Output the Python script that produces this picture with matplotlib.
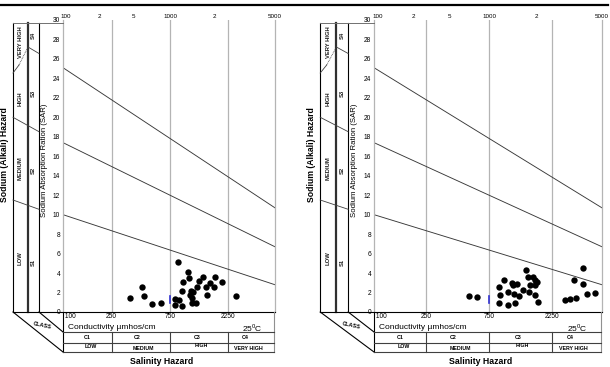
import numpy as np
import matplotlib.pyplot as plt

plt.rcParams['font.family'] = ['Liberation Sans', 'DejaVu Sans']

# conductivity (micromhos/cm) and SAR of the samples
left_ec = [353, 440, 459, 537, 635, 822, 881, 822, 933, 875, 938, 961, 1057, 1076,
           1105, 1091, 1132, 1125, 1221, 1161, 1251, 1291, 1400, 1473, 1493, 1589,
           1714, 1746, 2001, 2590]
left_sar = [1.41, 2.6, 1.68, 0.82, 0.96, 1.34, 1.23, 0.72, 0.62, 5.1, 2.19, 3.12, 4.08,
            3.53, 2.19, 1.75, 1.41, 0.89, 0.96, 2.09, 2.54, 3.22, 3.56, 2.6, 1.75, 2.95,
            2.54, 3.56, 3.12, 1.64]

right_ec = [527, 610, 896, 972, 906, 887, 1038, 1049, 1112, 1145, 1164, 1178, 1214,
            1271, 1362, 1422, 1487, 1499, 1531, 1623, 1673, 1673, 1722, 1673, 1771,
            2828, 3085, 3428, 3327, 3894, 3855, 4178, 4753]
right_sar = [1.64, 1.51, 2.57, 3.29, 1.72, 0.89, 0.72, 2.02, 2.95, 2.77, 1.85, 0.89,
             2.88, 1.68, 2.26, 4.32, 3.57, 2.06, 2.77, 3.57, 3.29, 2.77, 3.11, 1.75,
             1.0, 1.23, 1.37, 1.41, 3.29, 4.49, 2.88, 1.82, 1.98]

# sodium hazard boundaries (straight on the log axis)
boundary_ec = [100, 5400]
s3_s4 = [25.1, 10.7]
s2_s3 = [17.4, 6.7]
s1_s2 = [10.0, 2.8]

class_ec = [250, 750, 2250]
bottom_labels = ['250', '750', '2250']
top_tick_ec = [106, 198, 375, 760, 1720, 5400]
top_tick_labels = ['100', '2', '5', '1000', '2', '5000']
sar_ticks = list(range(0, 31, 2))

salinity_classes = ['C1', 'C2', 'C3', 'C4']
salinity_names = ['LOW', 'MEDIUM', 'HIGH', 'VERY HIGH']
sodium_classes = ['S1', 'S2', 'S3', 'S4']
sodium_names = ['LOW', 'MEDIUM', 'HIGH', 'VERY HIGH']

blue_ec = [750, 750]
blue_sar = [0.95, 1.65]

W, H = 610, 367
TOP, BOT = 20, 312
GRID = '#b4b4b4'


def draw_panel(fig, ov, p, r, ec, sar):
    sx = (r - p) / 212.0
    ax = fig.add_axes([p / W, 1 - BOT / H, (r - p) / W, (BOT - TOP) / H])
    ax.set_xscale('log')
    ax.set_xlim(100, 5400)
    ax.set_ylim(0, 30)
    ax.minorticks_off()
    for e in class_ec:
        ax.axvline(e, color=GRID, lw=0.9, zorder=1)
    ax.plot(boundary_ec, s3_s4, color='#383838', lw=0.65)
    ax.plot(boundary_ec, s2_s3, color='#383838', lw=0.65)
    ax.plot(boundary_ec, s1_s2, color='#383838', lw=0.65)
    ax.scatter(ec, sar, s=21, color='black', linewidths=0, zorder=3)
    ax.plot(blue_ec, blue_sar, color='#3030d0', lw=1.2, zorder=2)

    ax.xaxis.tick_top()
    ax.set_xticks(top_tick_ec)
    ax.set_xticklabels(top_tick_labels, fontsize=4.5)
    ax.tick_params(axis='x', length=0, pad=1)
    ax.set_yticks(sar_ticks)
    ax.set_yticklabels([str(v) for v in sar_ticks], fontsize=4.8)
    ax.tick_params(axis='y', length=0, pad=2)
    ax.spines['top'].set_visible(False)
    ax.spines['bottom'].set_visible(False)
    for s in ('left', 'right'):
        ax.spines[s].set_color(GRID)
        ax.spines[s].set_linewidth(0.9)

    xt = ax.get_xaxis_transform()
    ax.text(100, -0.005, ' 100', transform=xt, ha='left', va='top', fontsize=4.8)
    for e, lab in zip(class_ec, bottom_labels):
        ax.text(e, -0.005, lab, transform=xt, ha='center', va='top', fontsize=4.8)

    # pixel position of an EC value on this panel
    def px(e):
        return p + (np.log10(e) - 2) / np.log10(54) * (r - p)

    a, b, c = p - 50 * sx, p - 35 * sx, p - 24 * sx
    k = dict(color='black', lw=0.8)
    ov.plot([a, a], [23.3, BOT], **k)
    ov.plot([b, b], [23.3, BOT], color='#303030', lw=1.6)
    ov.plot([c, c], [23.3, BOT], **k)
    ov.plot([a, p], [23.3, 23.3], color='#707070', lw=0.7)
    ov.plot([a, r], [BOT, BOT], **k)
    ov.plot([a, p], [BOT, 352], **k)
    ov.plot([c, p], [BOT, 332], **k)
    ov.plot([p, p], [BOT, 352], **k)
    ov.plot([r - 1, r - 1], [BOT, 352], color='#909090', lw=0.8)
    for yy in (332, 342.5, 352):
        ov.plot([p, r - 1], [yy, yy], color='#404040', lw=0.8)
    for e in class_ec:
        ov.plot([px(e), px(e)], [332, 352], color='#404040', lw=0.8)

    # sodium class boundaries on the left strip
    ov.plot([a, c], [200, 209.3], color='#404040', lw=0.6)
    ov.plot([a, c], [117.3, 131.7], color='#404040', lw=0.6)
    ov.plot([a, a + 6 * sx], [73, 65], color='#404040', lw=0.6)
    ov.plot([a + 6 * sx, b], [65, 47], color='#404040', lw=0.6, ls=(0, (1, 1)))
    ov.plot([b, c], [47, 53.5], color='#404040', lw=0.6)

    mid1 = (a + b) / 2
    mid2 = (b + c) / 2
    for name, yy in zip(sodium_names, [258, 168, 99, 42]):
        ov.text(mid1, yy, name, rotation=90, ha='center', va='center',
                fontsize=4.2, fontweight='bold', color='#202020')
    for name, yy in zip(sodium_classes, [262, 170, 93, 35]):
        ov.text(mid2, yy, name, rotation=90, ha='center', va='center',
                fontsize=4.2, fontweight='bold', color='#202020')

    ov.text(p - 58 * sx, 155, 'Sodium (Alkali) Hazard', rotation=90,
            ha='center', va='center', fontsize=6.2, fontweight='bold')
    ov.text(p - 18.5 * sx, 160, 'Sodium Absorption Ration (SAR)', rotation=90,
            ha='center', va='center', fontsize=5.6)
    ov.text(p - 21 * sx, 325, 'CLASS', rotation=-12, ha='center', va='center',
            fontsize=4, fontweight='bold')
    ov.text(p + 5 * sx, 327.5, 'Conductivity \u00b5mhos/cm', ha='left', va='center',
            fontsize=6)
    ov.text(p + 179 * sx, 327.5, r'25$^\mathregular{0}$C', ha='left', va='center',
            fontsize=6)
    for lab, off in zip(salinity_classes, [24, 74, 134, 182]):
        ov.text(p + off * sx, 337.2, lab, ha='center', va='center',
                fontsize=3.8, fontweight='bold')
    for lab, off, yy in zip(salinity_names, [28, 80, 138, 185],
                            [347, 348.5, 345.5, 348.5]):
        ov.text(p + off * sx, yy, lab, ha='center', va='center',
                fontsize=3.8, fontweight='bold')
    ov.text(p + 99 * sx, 362, 'Salinity Hazard', ha='center', va='center',
            fontsize=6.3, fontweight='bold')
    return ax


def main():
    fig = plt.figure(figsize=(W / 100, H / 100), dpi=100)
    ov = fig.add_axes([0, 0, 1, 1], zorder=5)
    ov.set_xlim(0, W)
    ov.set_ylim(H, 0)
    ov.axis('off')

    ov.plot([0, 608], [5, 5], color='black', lw=1.6)

    draw_panel(fig, ov, 63, 275, left_ec, left_sar)
    draw_panel(fig, ov, 374, 602, right_ec, right_sar)

    fig.savefig('out.png', dpi=100)


if __name__ == '__main__':
    main()
